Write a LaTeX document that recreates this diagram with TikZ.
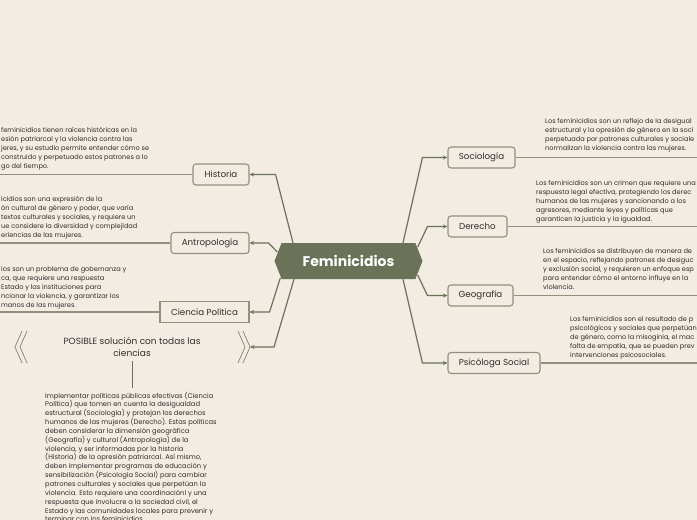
\documentclass[tikz,border=0pt]{standalone}
\usepackage{fontspec}
\setmainfont{Poppins}
\usetikzlibrary{shapes.symbols,arrows.meta}
\definecolor{bg}{HTML}{F3ECE3}
\definecolor{olive}{HTML}{6A7358}
\definecolor{boxline}{HTML}{8E927D}
\definecolor{txt}{HTML}{2E2E2E}
\begin{document}
\begin{tikzpicture}[x=1pt,y=-1pt,
 box/.style={draw=boxline, line width=1.1pt, fill=bg, rounded corners=3pt, minimum height=21pt, inner sep=0pt, font=\fontsize{8.7}{10}\selectfont, text=txt},
 conn/.style={draw=olive, line width=1.2pt, -{Stealth[length=4.5pt,width=4pt]}},
 rule/.style={draw=boxline, line width=1.1pt},
 para/.style={inner sep=0pt, align=left, anchor=north west, font=\fontsize{6.6}{9}\selectfont, text=txt},
 chev/.style={draw=boxline!90!black, line width=0.7pt}]
\path[use as bounding box, fill=bg] (0,0) rectangle (697,520);
\clip (0,0) rectangle (697,520);
\coordinate (L) at (0,0);
\coordinate (R) at (697,0);

% centre
\node[signal, signal to=west and east, signal pointer angle=137, fill=olive, minimum width=148pt, minimum height=36pt, inner sep=0pt, font=\fontsize{14}{16}\selectfont\bfseries, text=white] (c) at (348.5,261) {Feminicidios};

% boxes
\node[box, minimum width=56pt] (hist) at (221,174.5) {Historia};
\node[box, minimum width=78pt] (antro) at (210,243) {Antropología};
\node[box, minimum width=89pt, rounded corners=0pt] (cien) at (204.5,312) {Ciencia Política};
\node[box, minimum width=67pt] (soc) at (481.5,157.5) {Sociología};
\node[box, minimum width=59pt] (der) at (477.5,226.5) {Derecho};
\node[box, minimum width=65pt] (geo) at (480.5,295.5) {Geografía};
\node[box, minimum width=92pt] (psi) at (494,363) {Psicóloga Social};

% posible
\node[align=center, font=\fontsize{9}{12.5}\selectfont, text=txt, inner sep=0pt] (pos) at (132,347) {POSIBLE solución con todas las\\ciencias};
\draw[chev] (22,331) -- (15,347) -- (22,363);
\draw[chev] (27,331) -- (20,347) -- (27,363);
\draw[chev] (238,331) -- (245,347) -- (238,363);
\draw[chev] (243,331) -- (250,347) -- (243,363);
\coordinate (posr) at (250,347);

% connectors
\draw[conn] ([xshift=-55.5pt]c.north) -- ([xshift=26pt]hist.east) -- (hist.east);
\draw[conn] ([shift={(3pt,9pt)}]c.west) -- ([xshift=19pt]antro.east) -- (antro.east);
\draw[conn] ([shift={(6pt,-17pt)}]c.west) -- ([xshift=20pt]cien.east) -- (cien.east);
\draw[conn] ([xshift=-54.5pt]c.south) -- ([xshift=24pt]posr) -- (posr);
\draw[conn] ([xshift=54.5pt]c.north) -- ([xshift=-25pt]soc.west) -- (soc.west);
\draw[conn] ([shift={(-5pt,14pt)}]c.east) -- ([xshift=-20pt]der.west) -- (der.west);
\draw[conn] ([shift={(-5pt,-14pt)}]c.east) -- ([xshift=-20pt]geo.west) -- (geo.west);
\draw[conn] ([xshift=54.5pt]c.south) -- ([xshift=-25pt]psi.west) -- (psi.west);

% rules to edges
\draw[rule] (hist.west) -- (hist.west -| L);
\draw[rule] (antro.west) -- (antro.west -| L);
\draw[rule] (cien.west) -- (cien.west -| L);
\draw[rule] (soc.east) -- (soc.east -| R);
\draw[rule] (der.east) -- (der.east -| R);
\draw[rule] (geo.east) -- (geo.east -| R);
\draw[rule] (psi.east) -- (psi.east -| R);

% texts
\node[para] (thist) at (1,127.5) {feminicidios tienen raíces históricas en la\\esión patriarcal y la violencia contra las\\jeres, y su estudio permite entender cómo se\\construido y perpetuado estos patrones a lo\\go del tiempo.};
\node[para] (tantro) at (1,196.5) {icidios son una expresión de la\\ón cultural de género y poder, que varía\\textos culturales y sociales, y requiere un\\ue considere la diversidad y complejidad\\eriencias de las mujeres.};
\node[para] (tcien) at (1,266.5) {ios son un problema de gobernanza y\\ca, que requiere una respuesta\\Estado y las instituciones para\\ncionar la violencia, y garantizar los\\manos de las mujeres.};
\node[para] (tsoc) at (545,118.5) {Los feminicidios son un reflejo de la desigual\\estructural y la opresión de género en la soci\\perpetuada por patrones culturales y sociale\\normalizan la violencia contra las mujeres.};
\node[para] (tder) at (536,180.5) {Los feminicidios son un crimen que requiere una\\respuesta legal efectiva, protegiendo los derec\\humanos de las mujeres y sancionando a los\\agresores, mediante leyes y políticas que\\garanticen la justicia y la igualdad.};
\node[para] (tgeo) at (543,248.5) {Los feminicidios se distribuyen de manera de\\en el espacio, reflejando patrones de desiguc\\y exclusión social, y requieren un enfoque esp\\para entender cómo el entorno influye en la\\violencia.};
\node[para] (tpsi) at (570,316.5) {Los feminicidios son el resultado de p\\psicológicos y sociales que perpetúan\\de género, como la misoginia, el mac\\falta de empatía, que se pueden prev\\intervenciones psicosociales.};

\node[para, font=\fontsize{6.75}{8.85}\selectfont] (sol) at (45,391.5) {Implementar políticas públicas efectivas (Ciencia\\Política) que tomen en cuenta la desigualdad\\estructural (Sociología) y protejan los derechos\\humanos de las mujeres (Derecho). Estas políticas\\deben considerar la dimensión geográfica\\(Geografía) y cultural (Antropología) de la\\violencia, y ser informadas por la historia\\(Historia) de la opresión patriarcal. Así mismo,\\deben implementar programas de educación y\\sensibilización (Psicología Social) para cambiar\\patrones culturales y sociales que perpetúan la\\violencia. Esto requiere una coordinaciónl y una\\respuesta que involucre a la sociedad civil, el\\Estado y las comunidades locales para prevenir y\\terminar con los feminicidios.};
\draw[draw=olive, line width=0.9pt, shorten <=4pt, shorten >=4pt] (pos.south) -- (pos.south |- sol.north);
\end{tikzpicture}
\end{document}
